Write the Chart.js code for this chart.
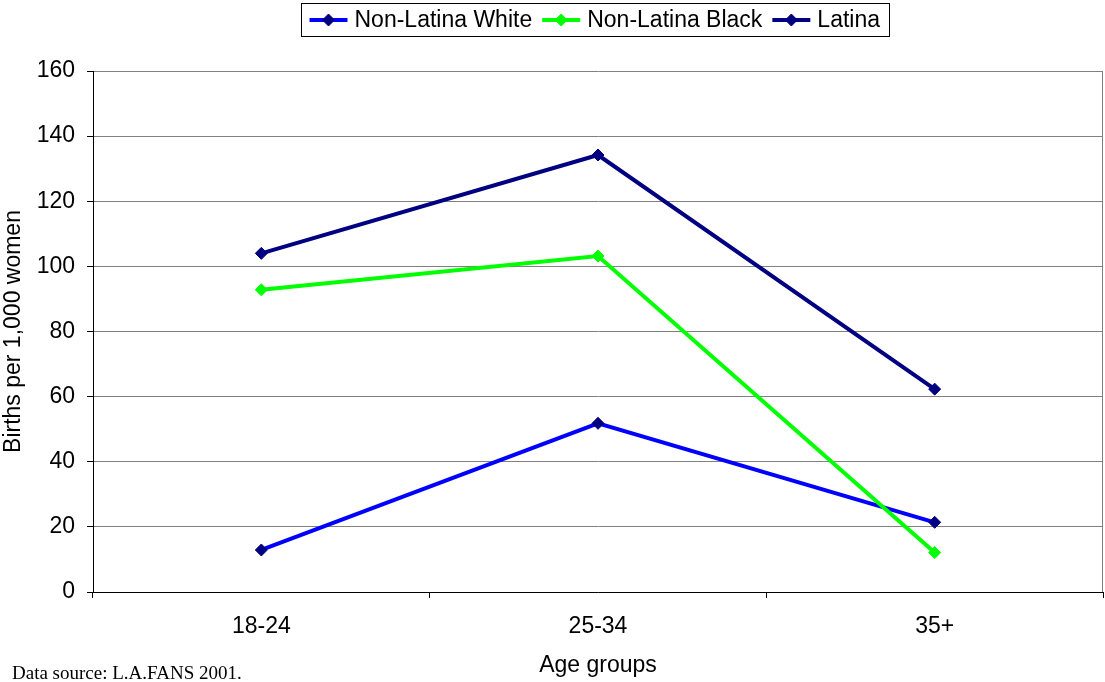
<!DOCTYPE html>
<html>
<head>
<meta charset="utf-8">
<title>Births per 1,000 women by age group</title>
<script src="https://cdn.jsdelivr.net/npm/chart.js@4.4.1/dist/chart.umd.min.js"></script>
<style>
  html, body { margin: 0; padding: 0; background: #ffffff; }
  canvas { display: block; }
</style>
</head>
<body>
<canvas id="chart" width="1105" height="682"></canvas>
<script>
// Age groups on the horizontal axis
const categories = ['18-24', '25-34', '35+'];

// Births per 1,000 women, by group
const nonLatinaWhite = [12.9, 51.8, 21.4];
const nonLatinaBlack = [92.8, 103.2, 12.1];
const latina = [104.0, 134.2, 62.3];

// Vertical axis range and step
const yMin = 0;
const yMax = 160;
const yStep = 20;

const FONT = '"Liberation Sans", Arial, sans-serif';
const TEXT_SIZE = 23;

// Boxed legend above the plot: a line with a diamond, then the label
const boxedLegend = {
  id: 'boxedLegend',
  afterDraw(chart) {
    const ctx = chart.ctx;
    const area = chart.chartArea;
    ctx.save();
    ctx.font = TEXT_SIZE + 'px ' + FONT;
    const lineW = 38, gapText = 7, gapItem = 10, padL = 8, padR = 9;
    const items = chart.data.datasets.map(ds => ({ ds, w: ctx.measureText(ds.label).width }));
    let total = padL + padR;
    items.forEach((it, i) => {
      total += lineW + gapText + it.w + (i < items.length - 1 ? gapItem : 0);
    });
    const cx = (area.left + area.right) / 2 - 3;
    const boxLeft = Math.round(cx - total / 2) + 0.5;
    const boxTop = 3.5, boxH = 33;
    const cy = boxTop + boxH / 2;

    ctx.strokeStyle = '#000000';
    ctx.lineWidth = 1;
    ctx.strokeRect(boxLeft, boxTop, Math.round(total), boxH);

    let x = boxLeft + padL;
    items.forEach(it => {
      const ds = it.ds;
      ctx.strokeStyle = ds.borderColor;
      ctx.lineWidth = ds.borderWidth;
      ctx.beginPath();
      ctx.moveTo(x, cy);
      ctx.lineTo(x + lineW, cy);
      ctx.stroke();
      ctx.fillStyle = ds.pointBackgroundColor;
      ctx.strokeStyle = ds.pointBorderColor;
      ctx.lineWidth = ds.pointBorderWidth;
      ctx.beginPath();
      const r = ds.pointRadius;
      const px = x + lineW / 2;
      ctx.moveTo(px - r, cy);
      ctx.lineTo(px, cy - r);
      ctx.lineTo(px + r, cy);
      ctx.lineTo(px, cy + r);
      ctx.closePath();
      ctx.fill();
      ctx.stroke();
      x += lineW + gapText;
      ctx.fillStyle = '#000000';
      ctx.textBaseline = 'middle';
      ctx.textAlign = 'left';
      ctx.fillText(ds.label, x, cy + 1);
      x += it.w + gapItem;
    });

    // source note, bottom left
    ctx.font = '19px "Liberation Serif", "Times New Roman", serif';
    ctx.textBaseline = 'alphabetic';
    ctx.fillStyle = '#000000';
    ctx.fillText('Data source: L.A.FANS 2001.', 12, 679);
    ctx.restore();
  }
};

// Thin grey frame line on the right side of the plot area
const rightEdge = {
  id: 'rightEdge',
  beforeDatasetsDraw(chart) {
    const { ctx, chartArea } = chart;
    ctx.save();
    ctx.strokeStyle = '#808080';
    ctx.lineWidth = 1;
    ctx.beginPath();
    const x = Math.round(chartArea.right) - 0.5;
    ctx.moveTo(x, chartArea.top);
    ctx.lineTo(x, chartArea.bottom);
    ctx.stroke();
    ctx.restore();
  }
};

function series(label, data, lineColor, pointColor, order) {
  return {
    label,
    data,
    order,
    borderColor: lineColor,
    backgroundColor: lineColor,
    borderWidth: 4,
    pointStyle: 'rectRot',
    pointRadius: 6,
    pointHoverRadius: 6,
    pointBorderWidth: 1,
    pointBackgroundColor: pointColor,
    pointBorderColor: pointColor,
    tension: 0,
    fill: false
  };
}

new Chart(document.getElementById('chart'), {
  type: 'line',
  data: {
    labels: categories,
    datasets: [
      series('Non-Latina White', nonLatinaWhite, '#0000ff', '#000080', 3),
      series('Non-Latina Black', nonLatinaBlack, '#00ff00', '#00ff00', 2),
      series('Latina', latina, '#000080', '#000080', 1)
    ]
  },
  options: {
    responsive: false,
    animation: false,
    devicePixelRatio: 1,
    layout: {
      autoPadding: false,
      padding: { top: 71, right: 2, left: 0, bottom: 0 }
    },
    plugins: {
      legend: { display: false },
      tooltip: { enabled: false }
    },
    scales: {
      x: {
        type: 'category',
        offset: true,
        grid: {
          offset: true,
          drawOnChartArea: false,
          drawTicks: true,
          tickLength: 6,
          color: '#000000',
          tickColor: '#000000'
        },
        border: { color: '#000000', width: 1 },
        ticks: {
          color: '#000000',
          font: { family: FONT, size: TEXT_SIZE },
          padding: 15,
          maxRotation: 0
        },
        title: {
          display: true,
          text: 'Age groups',
          color: '#000000',
          font: { family: FONT, size: TEXT_SIZE },
          padding: { top: 0, bottom: 3 }
        },
        afterFit(scale) { scale.height = 90; }
      },
      y: {
        min: yMin,
        max: yMax,
        ticks: {
          stepSize: yStep,
          color: '#000000',
          font: { family: FONT, size: TEXT_SIZE },
          padding: 12
        },
        grid: {
          color: '#808080',
          tickColor: '#000000',
          tickLength: 6,
          lineWidth: 1
        },
        border: { color: '#000000', width: 1 },
        title: {
          display: true,
          text: 'Births per 1,000 women',
          color: '#000000',
          font: { family: FONT, size: TEXT_SIZE },
          padding: { top: 0, bottom: 0 }
        },
        afterFit(scale) { scale.width = 93; }
      }
    }
  },
  plugins: [rightEdge, boxedLegend]
});
</script>
</body>
</html>
